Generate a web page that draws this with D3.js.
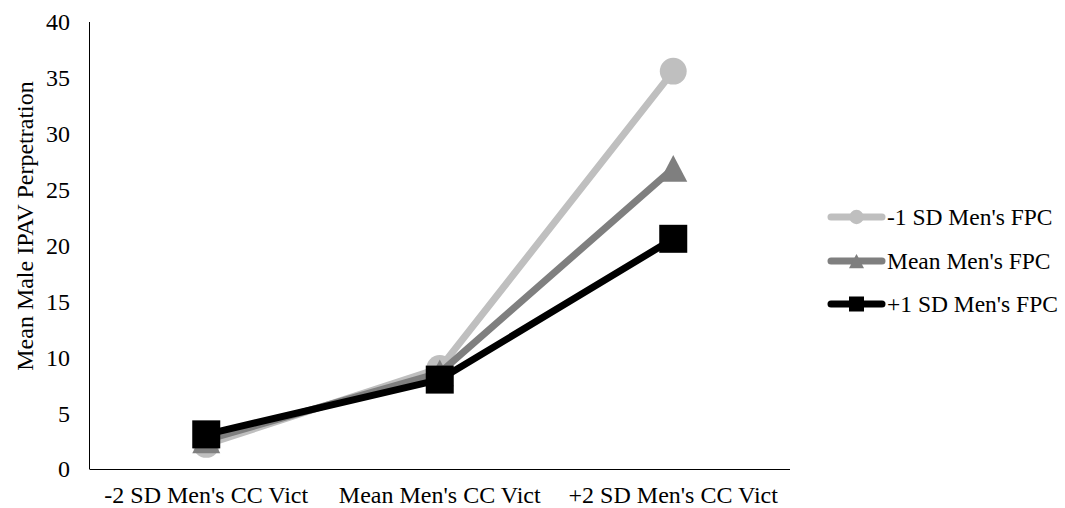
<!DOCTYPE html>
<html><head><meta charset="utf-8">
<script src="https://cdn.jsdelivr.net/npm/d3@7"></script>
<style>body{margin:0;background:#fff;} svg{display:block;}</style>
</head><body>
<svg id="c" width="1065" height="508"></svg>
<script>
const categories = ["-2 SD Men's CC Vict", "Mean Men's CC Vict", "+2 SD Men's CC Vict"];
const seriesNames = ["-1 SD Men's FPC", "Mean Men's FPC", "+1 SD Men's FPC"];
const lowFPC = [2.2, 9.0, 35.6];
const meanFPC = [2.6, 8.6, 26.9];
const highFPC = [3.1, 8.0, 20.6];
const yTicks = [0, 5, 10, 15, 20, 25, 30, 35, 40];
const yTitle = "Mean Male IPAV Perpetration";

const series = [
  {name: seriesNames[0], values: lowFPC, color: "#BFBFBF", shape: "circle"},
  {name: seriesNames[1], values: meanFPC, color: "#7F7F7F", shape: "triangle"},
  {name: seriesNames[2], values: highFPC, color: "#000000", shape: "square"}
];

const FONT = '"Liberation Serif", serif';
const svg = d3.select("#c");
const x = d3.scaleBand().domain(categories).range([89.5, 790]);
const y = d3.scaleLinear().domain([0, 40]).range([469, 22]);

// axes
svg.append("line").attr("x1", 89.5).attr("x2", 89.5).attr("y1", y(40)).attr("y2", y(0))
  .attr("stroke", "#000").attr("stroke-width", 1);
svg.append("line").attr("x1", 89.5).attr("x2", 790).attr("y1", y(0)+0.5).attr("y2", y(0)+0.5)
  .attr("stroke", "#000").attr("stroke-width", 1);

svg.selectAll(".yt").data(yTicks).enter().append("text")
  .attr("x", 70).attr("y", d => y(d)).attr("dy", "0.35em")
  .attr("text-anchor", "end").style("font-family", FONT).style("font-size", "24px")
  .text(d => d);

svg.selectAll(".xt").data(categories).enter().append("text")
  .attr("x", d => x(d) + x.bandwidth()/2).attr("y", 503)
  .attr("text-anchor", "middle").style("font-family", FONT).style("font-size", "24px")
  .text(d => d);

svg.append("text").attr("transform", "translate(33,226) rotate(-90)")
  .attr("text-anchor", "middle").style("font-family", FONT).style("font-size", "24px")
  .text(yTitle);

const line = d3.line().x((d, i) => x(categories[i]) + x.bandwidth()/2).y(d => y(d));

function marker(g, shape, cx, cy, color, s) {
  if (shape === "circle") {
    g.append("circle").attr("cx", cx).attr("cy", cy).attr("r", s*0.48).attr("fill", color);
  } else if (shape === "triangle") {
    const h = s*0.95, w = s*1.0;
    g.append("path").attr("d", `M${cx},${cy-h/2}L${cx+w/2},${cy+h/2}L${cx-w/2},${cy+h/2}Z`).attr("fill", color);
  } else {
    g.append("rect").attr("x", cx-s/2).attr("y", cy-s/2).attr("width", s).attr("height", s).attr("fill", color);
  }
}

series.forEach(s => {
  const g = svg.append("g");
  g.append("path").datum(s.values).attr("d", line).attr("fill", "none")
    .attr("stroke", s.color).attr("stroke-width", 7).attr("stroke-linejoin", "round");
  s.values.forEach((v, i) => marker(g, s.shape, x(categories[i]) + x.bandwidth()/2, y(v), s.color, 28));
});

// legend
const ly = [217, 261, 304];
series.forEach((s, i) => {
  const g = svg.append("g");
  g.append("line").attr("x1", 831).attr("x2", 882).attr("y1", ly[i]).attr("y2", ly[i])
    .attr("stroke", s.color).attr("stroke-width", 7).attr("stroke-linecap", "round");
  marker(g, s.shape, 856.5, ly[i], s.color, 15);
  g.append("text").attr("x", 887).attr("y", ly[i]).attr("dy", "0.35em")
    .style("font-family", FONT).style("font-size", "23.5px").text(s.name);
});
</script>
</body></html>
